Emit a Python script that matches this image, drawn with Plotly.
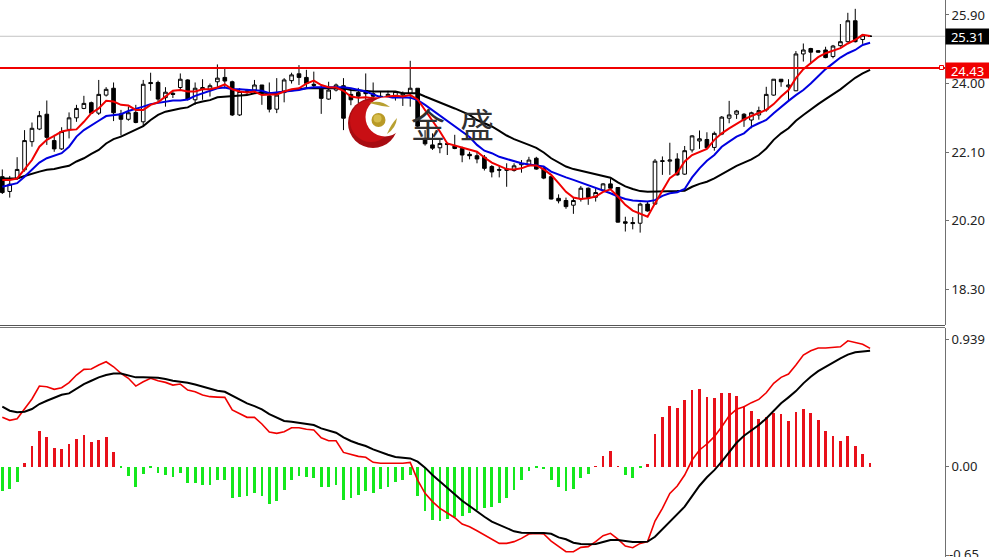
import plotly.graph_objects as go

opens = [21.42,21.01,21.37,21.61,22.39,22.74,23.15,22.42,22.19,22.73,23.05,23.31,23.47,23.18,23.68,23.87,23.16,23.01,23.2,22.94,
 24.03,24.03,23.61,23.73,23.89,24.1,23.55,23.84,23.84,24.05,24.17,24.05,23.13,23.75,23.82,23.96,23.66,23.29,23.75,24.08,
 24.27,24.17,23.98,23.87,23.57,23.82,23.94,23.7,23.75,23.8,23.72,23.6,23.66,23.64,23.68,23.73,23.87,22.48,22.3,22.22,
 22.34,22.27,22.2,22.04,22.0,21.96,21.7,21.62,21.62,21.59,21.75,21.75,21.93,21.65,21.42,20.82,20.76,20.63,20.8,21.1,
 20.85,21.05,21.22,21.12,20.17,20.15,20.13,20.66,20.66,21.84,21.85,21.91,21.49,22.16,22.41,22.45,22.23,22.6,23.04,23.15,
 23.15,22.99,23.13,23.27,23.68,24.12,23.91,23.8,24.82,24.97,24.91,24.93,24.75,25.05,25.16,25.74,25.22,25.31]
highs = [21.62,21.44,21.96,22.71,22.92,23.24,23.53,22.58,22.79,23.2,23.41,23.66,23.5,24.1,23.9,24.03,23.27,23.36,23.41,24.1,
 24.3,24.08,23.9,23.82,24.28,24.12,24.03,24.12,24.0,24.53,24.42,24.08,23.87,23.85,24.1,23.96,24.03,24.15,24.15,24.3,
 24.51,24.38,24.33,23.96,24.05,24.0,24.15,23.85,23.88,24.28,24.03,23.78,23.8,23.78,23.78,24.63,23.87,22.71,22.62,22.48,
 22.36,22.58,22.25,22.11,22.11,22.02,21.74,21.74,21.79,21.79,21.88,21.97,21.97,21.7,21.44,20.93,20.84,20.84,21.16,21.12,
 21.1,21.24,21.37,21.13,20.31,20.3,20.7,20.73,21.91,21.98,22.36,22.07,22.27,22.57,22.7,22.65,22.67,23.1,23.52,23.27,
 23.18,23.22,23.36,23.91,24.12,24.12,24.12,24.9,25.11,24.99,24.93,25.02,25.07,25.65,25.96,26.07,25.37,25.34]
lows = [20.94,20.84,21.33,21.56,22.25,22.71,22.3,22.11,22.16,22.48,22.94,23.29,23.16,23.13,23.64,22.96,22.56,22.97,22.9,22.82,
 23.8,23.5,23.36,23.6,23.82,23.53,23.41,23.55,23.64,23.87,23.87,23.1,23.1,23.7,23.73,23.41,23.2,23.18,23.48,24.0,
 23.96,23.87,23.87,23.16,23.55,23.78,22.71,23.4,23.45,23.55,23.27,23.45,23.56,22.76,23.38,23.36,22.76,22.28,22.16,22.07,
 22.02,22.18,21.82,21.9,21.79,21.59,21.4,21.4,21.14,21.56,21.53,21.7,21.61,21.35,20.79,20.68,20.53,20.39,20.73,20.64,
 20.73,21.03,21.05,20.15,19.9,19.96,19.87,20.45,20.64,21.47,21.47,21.45,21.47,22.09,22.19,22.2,22.14,22.57,22.9,23.02,
 22.8,22.76,23.0,23.22,23.66,23.91,23.5,23.79,24.61,24.56,24.86,24.7,24.7,25.02,25.14,25.14,25.1,25.29]
closes = [20.98,21.21,21.62,22.42,22.76,23.11,22.51,22.19,22.67,23.05,23.31,23.45,23.18,23.7,23.84,23.19,23.01,23.19,22.92,23.98,
 24.0,23.57,23.76,23.7,24.12,23.56,23.87,23.89,23.94,24.15,24.07,23.13,23.78,23.8,23.96,23.73,23.29,23.68,24.1,24.24,
 24.17,24.0,23.95,23.59,23.82,23.96,23.04,23.55,23.65,23.72,23.65,23.65,23.7,23.78,23.72,23.87,22.82,22.33,22.21,22.34,
 22.31,22.2,22.02,22.0,21.91,21.65,21.55,21.6,21.6,21.72,21.78,21.88,21.63,21.38,20.8,20.75,20.59,20.76,21.1,20.84,
 20.98,21.22,21.1,20.16,20.13,20.12,20.66,20.47,21.85,21.86,21.88,21.47,22.14,22.55,22.47,22.22,22.62,23.07,23.13,23.24,
 22.99,23.19,23.25,23.7,24.12,24.05,23.96,24.82,24.93,24.87,24.87,24.72,25.04,25.16,25.74,25.16,25.34,25.31]

ma_fast = [21.33,21.33,21.37,21.61,21.88,22.25,22.44,22.55,22.67,22.71,22.73,22.94,23.18,23.31,23.52,23.5,23.41,23.39,23.27,23.27,
 23.41,23.48,23.64,23.8,23.82,23.78,23.78,23.84,23.84,23.89,23.98,23.84,23.78,23.75,23.78,23.68,23.7,23.7,23.78,23.84,
 23.87,24.0,24.08,23.96,23.9,23.89,23.8,23.64,23.61,23.62,23.59,23.59,23.64,23.66,23.64,23.68,23.56,23.27,22.99,22.67,
 22.34,22.28,22.23,22.18,22.11,21.95,21.81,21.72,21.63,21.62,21.65,21.73,21.73,21.62,21.47,21.24,21.0,20.84,20.8,20.82,
 20.87,21.0,21.07,20.87,20.64,20.48,20.39,20.31,20.68,21.05,21.38,21.53,21.84,22.02,22.11,22.19,22.44,22.62,22.76,22.88,
 23.01,23.1,23.19,23.27,23.43,23.64,23.82,24.15,24.4,24.56,24.73,24.84,24.9,24.98,25.11,25.21,25.35,25.32]
ma_mid = [21.14,21.19,21.24,21.42,21.62,21.81,21.93,21.99,22.07,22.25,22.53,22.71,22.85,22.97,23.1,23.13,23.15,23.24,23.29,23.36,
 23.43,23.47,23.5,23.53,23.53,23.56,23.66,23.73,23.8,23.87,23.89,23.84,23.84,23.82,23.8,23.8,23.73,23.75,23.78,23.8,
 23.82,23.87,23.9,23.9,23.9,23.9,23.9,23.87,23.82,23.78,23.7,23.62,23.61,23.62,23.62,23.61,23.54,23.41,23.26,23.11,
 22.96,22.82,22.67,22.52,22.3,22.14,22.07,21.97,21.91,21.84,21.79,21.76,21.73,21.7,21.56,21.47,21.4,21.33,21.26,21.19,
 21.1,21.03,20.96,20.87,20.8,20.76,20.74,20.73,20.77,20.89,20.96,20.99,21.08,21.4,21.65,21.86,22.02,22.25,22.39,22.53,
 22.62,22.8,22.9,22.99,23.18,23.36,23.52,23.68,23.82,24.0,24.21,24.4,24.56,24.72,24.84,24.93,25.07,25.13]
ma_slow = [21.37,21.37,21.37,21.44,21.51,21.56,21.61,21.63,21.68,21.72,21.84,21.93,22.05,22.16,22.34,22.46,22.53,22.62,22.71,22.82,
 22.99,23.13,23.22,23.27,23.31,23.34,23.45,23.5,23.54,23.62,23.64,23.64,23.66,23.68,23.73,23.75,23.73,23.73,23.78,23.82,
 23.84,23.87,23.87,23.89,23.89,23.87,23.87,23.82,23.8,23.78,23.78,23.78,23.78,23.78,23.73,23.73,23.73,23.64,23.56,23.48,
 23.41,23.31,23.22,23.13,22.99,22.9,22.81,22.69,22.56,22.46,22.39,22.3,22.22,22.09,21.93,21.81,21.7,21.63,21.58,21.52,
 21.47,21.42,21.39,21.26,21.15,21.08,21.02,21.0,21.0,21.01,21.02,21.02,21.03,21.14,21.22,21.28,21.37,21.49,21.6,21.72,
 21.81,21.9,22.02,22.2,22.44,22.62,22.76,22.97,23.13,23.29,23.43,23.57,23.7,23.84,24.0,24.16,24.28,24.38]

macd_hist = [-0.176,-0.164,-0.115,0.029,0.152,0.262,0.216,0.137,0.127,0.167,0.206,0.23,0.184,0.199,0.216,0.108,-0.01,-0.069,-0.147,-0.054,
 -0.005,-0.049,-0.061,-0.078,-0.049,-0.118,-0.118,-0.132,-0.132,-0.1,-0.1,-0.23,-0.223,-0.216,-0.194,-0.216,-0.272,-0.25,-0.172,-0.098,
 -0.071,-0.078,-0.083,-0.147,-0.147,-0.135,-0.245,-0.23,-0.208,-0.176,-0.191,-0.167,-0.147,-0.115,-0.1,-0.061,-0.213,-0.326,-0.392,-0.4,
 -0.382,-0.368,-0.36,-0.338,-0.319,-0.306,-0.299,-0.27,-0.228,-0.172,-0.1,-0.029,-0.005,-0.02,-0.1,-0.147,-0.176,-0.162,-0.083,-0.054,
 0.003,0.076,0.113,0.005,-0.061,-0.083,-0.01,0.02,0.238,0.368,0.446,0.431,0.49,0.564,0.571,0.515,0.507,0.539,0.539,0.522,
 0.446,0.409,0.353,0.368,0.397,0.385,0.336,0.4,0.424,0.392,0.346,0.262,0.223,0.191,0.228,0.152,0.091,0.029]
macd_line = [0.363,0.341,0.353,0.429,0.498,0.593,0.588,0.569,0.581,0.618,0.674,0.716,0.718,0.748,0.772,0.735,0.686,0.65,0.593,0.625,
 0.65,0.632,0.62,0.6,0.608,0.564,0.551,0.527,0.515,0.512,0.51,0.417,0.392,0.363,0.363,0.314,0.255,0.245,0.257,0.287,
 0.287,0.275,0.27,0.213,0.191,0.191,0.105,0.091,0.076,0.069,0.032,0.025,0.025,0.025,0.025,0.032,-0.098,-0.196,-0.257,-0.306,
 -0.343,-0.375,-0.422,-0.441,-0.471,-0.502,-0.539,-0.564,-0.564,-0.551,-0.527,-0.495,-0.49,-0.495,-0.547,-0.588,-0.625,-0.625,-0.593,-0.588,
 -0.551,-0.507,-0.49,-0.532,-0.583,-0.596,-0.564,-0.551,-0.4,-0.306,-0.196,-0.142,-0.061,0.049,0.123,0.167,0.221,0.294,0.375,0.422,
 0.441,0.471,0.495,0.544,0.613,0.657,0.681,0.748,0.821,0.853,0.873,0.873,0.877,0.882,0.926,0.912,0.9,0.87]
macd_signal = [0.441,0.412,0.4,0.404,0.424,0.461,0.485,0.51,0.529,0.539,0.576,0.608,0.632,0.657,0.674,0.686,0.686,0.674,0.657,0.657,
 0.657,0.654,0.645,0.632,0.625,0.618,0.605,0.588,0.574,0.559,0.551,0.522,0.495,0.466,0.446,0.422,0.387,0.36,0.336,0.331,
 0.324,0.314,0.306,0.282,0.265,0.25,0.216,0.189,0.169,0.152,0.127,0.105,0.088,0.071,0.066,0.061,0.037,-0.007,-0.061,-0.11,
 -0.159,-0.203,-0.25,-0.289,-0.331,-0.368,-0.404,-0.429,-0.453,-0.475,-0.485,-0.488,-0.488,-0.488,-0.493,-0.52,-0.534,-0.559,-0.569,-0.571,
 -0.569,-0.554,-0.539,-0.539,-0.549,-0.554,-0.554,-0.551,-0.515,-0.461,-0.404,-0.348,-0.294,-0.216,-0.14,-0.078,-0.025,0.037,0.11,0.176,
 0.228,0.27,0.306,0.355,0.412,0.466,0.51,0.556,0.613,0.662,0.703,0.735,0.765,0.797,0.824,0.841,0.848,0.853]

price_ticks = [25.90, 24.00, 22.10, 20.20, 18.30]
macd_ticks = [0.939, 0.00, -0.65]
macd_tick_labels = ["0.939", "0.00", ""]
macd_low_label = "-0.65"
last_price = 25.31
alert_price = 24.43

bars = list(range(len(opens)))
W, H = 989, 557
AX = 945.0
FONT = "Noto Sans"


def px(x):
    return x / W


def py(y):
    return 1 - y / H


def circle(cx, cy, r, color):
    return dict(type="circle", xref="paper", yref="paper", layer="above", line_width=0, fillcolor=color,
                x0=px(cx - r), x1=px(cx + r), y0=py(cy + r), y1=py(cy - r))


fig = go.Figure()
fig.add_trace(go.Candlestick(x=bars, open=opens, high=highs, low=lows, close=closes, whiskerwidth=0,
                             increasing=dict(fillcolor="white", line=dict(color="black", width=1)),
                             decreasing=dict(fillcolor="black", line=dict(color="black", width=1)),
                             xaxis="x", yaxis="y", hoverinfo="skip"))
for vals, col in [(ma_slow, "#000000"), (ma_mid, "#0000e0"), (ma_fast, "#f00000")]:
    fig.add_trace(go.Scatter(x=bars, y=vals, mode="lines", line=dict(color=col, width=2), xaxis="x", yaxis="y",
                             hoverinfo="skip"))
fig.add_trace(go.Bar(x=bars, y=macd_hist, width=0.37,
                     marker=dict(color=["#e8101a" if v > 0 else "#14e81c" for v in macd_hist], line_width=0),
                     xaxis="x", yaxis="y2", hoverinfo="skip"))
fig.add_trace(go.Scatter(x=bars, y=macd_line, mode="lines", line=dict(color="#f00000", width=1.6), xaxis="x",
                         yaxis="y2", hoverinfo="skip"))
fig.add_trace(go.Scatter(x=bars, y=macd_signal, mode="lines", line=dict(color="#000000", width=2), xaxis="x",
                         yaxis="y2", hoverinfo="skip"))

axis_common = dict(side="right", anchor="x", showgrid=False, zeroline=False, showline=True, linecolor="#707070",
                   linewidth=1, ticks="outside", ticklen=3, tickcolor="#707070", tickwidth=1,
                   tickfont=dict(family=FONT, size=13, color="#222222"))

shapes = [
    dict(type="line", xref="x domain", yref="y", x0=0, x1=1, y0=last_price, y1=last_price,
         line=dict(color="#c4c4c4", width=1), layer="below"),
    dict(type="line", xref="x domain", yref="y", x0=0, x1=1, y0=alert_price, y1=alert_price,
         line=dict(color="#f00000", width=2)),
    dict(type="rect", xref="paper", yref="paper", x0=px(939.5), x1=px(943.5), y0=py(69.5), y1=py(65.5),
         line=dict(color="#f00000", width=1), fillcolor="white"),
    dict(type="line", xref="paper", yref="paper", x0=0, x1=px(AX), y0=py(325.5), y1=py(325.5),
         line=dict(color="#555555", width=1)),
    dict(type="line", xref="paper", yref="paper", x0=0, x1=px(AX), y0=py(327.5), y1=py(327.5),
         line=dict(color="#777777", width=1)),
    circle(373, 123, 25, "#a80c12"),
    circle(371, 121, 21, "#c80f14"),
    circle(385, 117, 19.5, "#ffffff"),
    circle(378.5, 120, 7, "#b99a26"),
    circle(377.5, 118.5, 4, "#d6bd4c"),
    dict(type="path", xref="paper", yref="paper", layer="above", line_width=0, fillcolor="#b8a030",
         path=f"M {px(369)} {py(103)} Q {px(380)} {py(99)} {px(390)} {py(107)} Q {px(380)} {py(106)} {px(369)} {py(103)} Z"),
    dict(type="path", xref="paper", yref="paper", layer="above", line_width=0, fillcolor="#b8a030",
         path=f"M {px(387)} {py(134)} Q {px(396)} {py(128)} {px(397)} {py(118)} Q {px(391)} {py(124)} {px(387)} {py(134)} Z"),
]

annotations = [
    dict(text=f"{last_price:.2f}", xref="paper", yref="paper", x=px(967.5), y=py(36), xanchor="center", yanchor="middle",
         showarrow=False, font=dict(family=FONT, size=13, color="white"), bgcolor="black", width=43, height=15, borderpad=0),
    dict(text=f"{alert_price:.2f}", xref="paper", yref="paper", x=px(967.5), y=py(70.5), xanchor="center", yanchor="middle",
         showarrow=False, font=dict(family=FONT, size=13, color="white"), bgcolor="#f00000", width=43, height=15, borderpad=0),
    dict(text=macd_low_label, xref="paper", yref="paper", x=px(947), y=py(554), xanchor="left", yanchor="middle",
         showarrow=False, font=dict(family=FONT, size=13, color="#222222")),
    dict(text="金", xref="paper", yref="paper", x=px(428), y=py(124), xanchor="center", yanchor="middle", showarrow=False,
         font=dict(family="Noto Sans CJK SC", size=34, color="#303030")),
    dict(text="盛", xref="paper", yref="paper", x=px(476.5), y=py(124), xanchor="center", yanchor="middle", showarrow=False,
         font=dict(family="Noto Sans CJK SC", size=34, color="#303030")),
]

fig.update_layout(
    width=W, height=H, margin=dict(l=0, r=0, t=0, b=0), paper_bgcolor="white", plot_bgcolor="white",
    showlegend=False, boxgap=0.3, bargap=0, hovermode=False,
    xaxis=dict(domain=[0, AX / W], range=[-0.31, 127.1], visible=False, rangeslider=dict(visible=False)),
    yaxis=dict(domain=[py(325), 1], range=[17.31, 26.315], tickvals=price_ticks,
               ticktext=[f"{v:.2f}" for v in price_ticks], **axis_common),
    yaxis2=dict(domain=[0, py(328)], range=[-0.664, 1.02], tickvals=macd_ticks, ticktext=macd_tick_labels,
                **axis_common),
    shapes=shapes, annotations=annotations,
)

fig.write_html("out.html", config=dict(displayModeBar=False),
               post_script="document.body.style.margin='0';document.documentElement.style.overflow='hidden';")
